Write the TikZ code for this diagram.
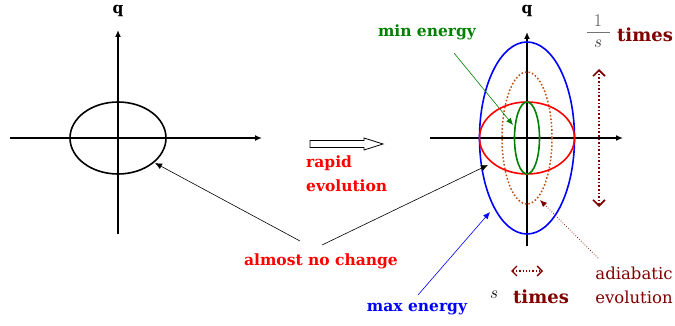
\documentclass[tikz,border=0pt]{standalone}
\usepackage{fontspec}
\newfontfamily\lblfont{DejaVu Serif}
\usetikzlibrary{arrows.meta}
\definecolor{dkred}{RGB}{128,0,0}
\definecolor{mygreen}{RGB}{0,128,0}
\definecolor{brownish}{RGB}{190,80,20}
\begin{document}
\begin{tikzpicture}[x=1pt,y=-1pt,
  axis/.style={line width=1.5pt,-{Latex[length=7pt,width=6pt]}},
  lbl/.style={font=\lblfont\fontsize{15.5}{18}\selectfont\bfseries,inner sep=0pt},
  big/.style={font=\lblfont\fontsize{18}{20}\selectfont\bfseries,inner sep=0pt},
  reg/.style={font=\lblfont\fontsize{16.5}{19}\selectfont,inner sep=0pt},
  ptr/.style={line width=0.6pt,-{Latex[length=7pt,width=6pt]}},
  ell/.style={line width=1.6pt}]
\useasboundingbox (0,0) rectangle (675,326);
% left axes
\coordinate (l0) at (118,138);
\coordinate (lxa) at (10,138);
\coordinate (lxb) at (262,138);
\coordinate (lya) at (118,234);
\coordinate (lyb) at (118,30);
\draw[axis] (lxa) -- (lxb);
\draw[axis] (lya) -- (lyb);
\node[lbl] (ql) at (118,11) {q};
\draw[ell] (l0) ellipse [x radius=48pt, y radius=36pt];
\coordinate (lpt) at (155,163);
% right axes
\coordinate (r0) at (527,138);
\coordinate (rxa) at (430,138);
\coordinate (rxb) at (623,138);
\coordinate (rya) at (527,246);
\coordinate (ryb) at (527,32);
\draw[axis] (rxa) -- (rxb);
\draw[axis] (rya) -- (ryb);
\node[lbl] (qr) at (527,11) {q};
\draw[ell,blue] (r0) ellipse [x radius=47.5pt, y radius=96pt];
\draw[ell,brownish,dotted,line width=1.5pt] (r0) ellipse [x radius=25pt, y radius=66pt];
\draw[ell,red] (r0) ellipse [x radius=47.5pt, y radius=36pt];
\draw[ell,mygreen] (r0) ellipse [x radius=12.5pt, y radius=36pt];
% rapid evolution arrow (hollow)
\draw[line width=0.8pt,fill=white] (310,140.5) -- (364,140.5) -- (364,138) -- (383,144) -- (364,150) -- (364,147.5) -- (310,147.5) -- cycle;
\node[lbl,red,anchor=west] (rapid) at (306,163) {rapid};
\node[lbl,red,anchor=west] (evol) at (306,186) {evolution};
% labels
\node[lbl,mygreen] (minE) at (427,32) {min energy};
\node[lbl,red] (anc) at (321,261) {almost no change};
\node[lbl,blue] (maxE) at (417,309) {max energy};
\node[reg,dkred] (adi1) at (634,273) {adiabatic};
\node[reg,dkred] (adi2) at (634,297) {evolution};
% pointers
\coordinate (ancA) at (300,241);
\coordinate (ancB) at (322,245);
\coordinate (rpt) at (488,165);
\draw[ptr] (ancA) -- (lpt);
\draw[ptr] (ancB) -- (rpt);
\coordinate (minA) at (454,53);
\coordinate (minB) at (513,125);
\draw[ptr,mygreen] (minA) -- (minB);
\coordinate (maxA) at (418,295);
\coordinate (maxB) at (490,212);
\draw[ptr,blue] (maxA) -- (maxB);
\coordinate (adA) at (598,258);
\coordinate (adB) at (540,200);
\draw[ptr,dkred,dotted,line width=0.9pt] (adA) -- (adB);
% vertical dotted double arrow
\coordinate (vA) at (599,207);
\coordinate (vB) at (599,69);
\draw[dkred,dotted,line width=1.6pt,{Straight Barb[length=6pt,width=12pt,line width=1.6pt,sep=0pt]}-{Straight Barb[length=6pt,width=12pt,line width=1.6pt]}] (vA) -- (vB);
% horizontal dotted double arrow
\coordinate (hA) at (511,271);
\coordinate (hB) at (543,271);
\draw[dkred,dotted,line width=1.3pt,{Straight Barb[length=5pt,width=10pt,line width=1.4pt]}-{Straight Barb[length=5pt,width=10pt,line width=1.4pt]}] (hA) -- (hB);
% 1/s times
\node[inner sep=0pt,text=black!70] (one) at (598,21) {\fontsize{18}{20}\selectfont 1};
\draw[black!55,line width=0.9pt] (587,32) -- (610,32);
\node[inner sep=0pt,text=black!80] (sden) at (598,44) {\fontsize{18}{20}\selectfont$s$};
\node[big,dkred] (times1) at (645,35) {times};
\node[inner sep=0pt] (sfac) at (494,295) {\fontsize{18}{20}\selectfont$s$};
\node[big,dkred] (times2) at (541,297) {times};
\end{tikzpicture}
\end{document}
